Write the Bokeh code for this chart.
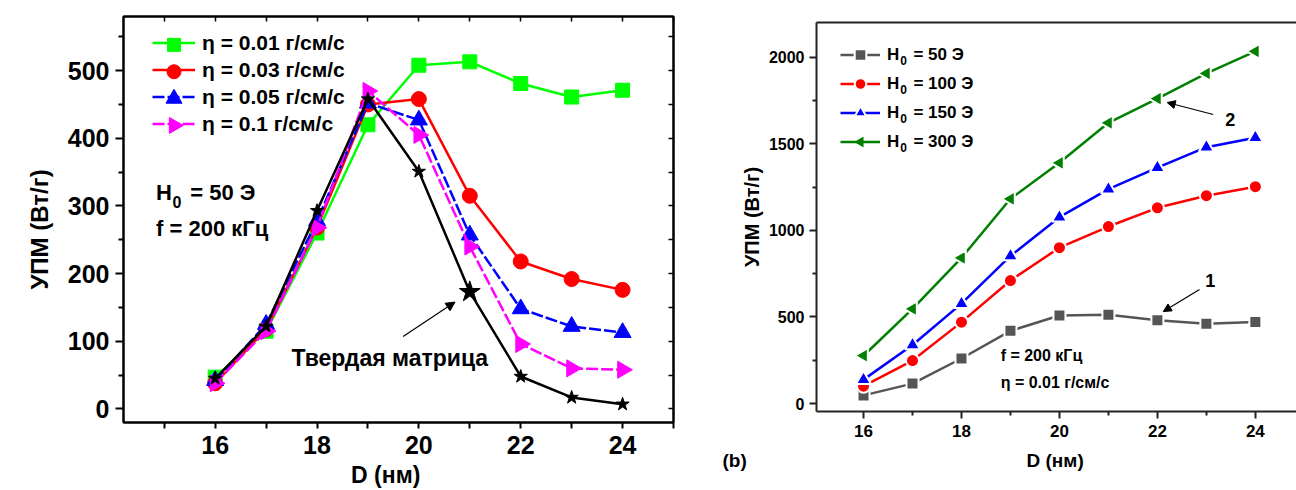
import math
from jinja2 import Template
from bokeh.plotting import figure
from bokeh.models import (Range1d, LinearAxis, Legend, LegendItem, Label, Arrow,
                          NormalHead, FixedTicker, Title)
from bokeh.core.templates import FILE
from bokeh.embed import file_html
from bokeh.resources import INLINE

FONT = "Liberation Sans"
NB = "\u00a0"

# particle diameter, nm
D = [16, 17, 18, 19, 20, 21, 22, 23, 24]

# (a) SAR vs D for several viscosities, H0 = 50 Oe, f = 200 kHz
sar_eta_001 = [47, 115, 260, 420, 508, 513, 481, 461, 471]
sar_eta_003 = [38, 118, 268, 450, 458, 315, 218, 192, 176]
sar_eta_005 = [42, 125, 278, 452, 427, 257, 148, 122, 113]
sar_eta_01 = [38, 115, 268, 470, 405, 240, 96, 60, 58]
sar_solid = [45, 122, 293, 458, 351, 173, 48, 17, 7]

# (b) SAR vs D for several field amplitudes, eta = 0.01
sar_h50 = [47, 115, 260, 420, 508, 513, 481, 461, 471]
sar_h100 = [100, 248, 470, 710, 900, 1022, 1130, 1200, 1252]
sar_h150 = [138, 338, 577, 852, 1076, 1238, 1362, 1480, 1535]
sar_h300 = [276, 546, 841, 1182, 1390, 1621, 1760, 1906, 2033]

left_labels = ["η = 0.01 г/см/с", "η = 0.03 г/см/с", "η = 0.05 г/см/с", "η = 0.1 г/см/с"]
field_values = ["50", "100", "150", "300"]

left_yticks = [0, 100, 200, 300, 400, 500]
left_yminor = [50, 150, 250, 350, 450, 550]
xticks = [16, 18, 20, 22, 24]
xminor = [15, 17, 19, 21, 23, 25]
right_yticks = [0, 500, 1000, 1500, 2000]
right_yminor = [250, 750, 1250, 1750]


def style_axis(ax, size, tick_out=8, minor_out=5, color="black"):
    ax.axis_line_width = 2
    ax.axis_line_color = color
    ax.major_tick_line_width = 2
    ax.minor_tick_line_width = 2
    ax.major_tick_line_color = color
    ax.minor_tick_line_color = color
    ax.major_tick_out = tick_out
    ax.major_tick_in = 0
    ax.minor_tick_out = minor_out
    ax.minor_tick_in = 0
    ax.major_label_text_font = FONT
    ax.major_label_text_font_style = "bold"
    ax.major_label_text_font_size = size
    ax.major_label_text_color = "black"
    ax.axis_label_text_font = FONT
    ax.axis_label_text_font_style = "bold"
    ax.axis_label_text_color = "black"


def mirror_ticks(p, side, positions):
    # frame side with short inward ticks only (minor ticks carry no labels)
    ax = LinearAxis(ticker=FixedTicker(ticks=[], minor_ticks=positions))
    ax.axis_line_width = 2
    ax.minor_tick_in = 5
    ax.minor_tick_out = 0
    ax.minor_tick_line_width = 1.5
    ax.major_tick_out = 0
    ax.major_label_standoff = 0
    p.add_layout(ax, side)


def text(p, x, y, s, size, align="left"):
    p.add_layout(Label(x=x, y=y, text=s, text_font=FONT, text_font_style="bold",
                       text_font_size=size, text_align=align, text_baseline="middle",
                       text_color="black"))


def screen_to_data(p, sx, sy):
    """Map a canvas pixel of figure p to its data coordinates (frame set by min_border_*)."""
    fx0 = p.min_border_left
    fx1 = p.width - p.min_border_right
    fy0 = p.min_border_top
    fy1 = p.height - p.min_border_bottom
    xr, yr = p.x_range, p.y_range
    x = xr.start + (sx - fx0) / (fx1 - fx0) * (xr.end - xr.start)
    y = yr.end - (sy - fy0) / (fy1 - fy0) * (yr.end - yr.start)
    return x, y


# ---------------- panel (a) ----------------
p1 = figure(width=700, height=490, x_range=Range1d(14.2, 25), y_range=Range1d(-20, 580),
            output_backend="svg", toolbar_location=None,
            min_border_left=123, min_border_right=27, min_border_top=16, min_border_bottom=66)
p1.outline_line_color = "black"
p1.outline_line_width = 2
p1.xgrid.visible = False
p1.ygrid.visible = False

p1.yaxis.ticker = FixedTicker(ticks=left_yticks, minor_ticks=left_yminor)
p1.xaxis.ticker = FixedTicker(ticks=xticks, minor_ticks=xminor)
style_axis(p1.yaxis[0], "25px", tick_out=8, minor_out=5)
style_axis(p1.xaxis[0], "25px", tick_out=6, minor_out=6)
p1.yaxis.axis_label = "УПМ (Вт/г)" + NB * 3
p1.yaxis.axis_label_text_font_size = "24px"
p1.yaxis.axis_label_standoff = 12
p1.yaxis.major_label_standoff = 6
p1.xaxis.axis_label = "D (нм)" + NB * 4
p1.xaxis.axis_label_text_font_size = "23px"
p1.xaxis.axis_label_standoff = 5
p1.xaxis.major_label_standoff = 7
mirror_ticks(p1, "above", list(range(15, 26)))
mirror_ticks(p1, "right", list(range(0, 551, 50)))

series_a = [
    (sar_eta_001, "#00ff00", "square", 14, 0.0, None),
    (sar_eta_003, "#ff0000", "circle", 15, 0.0, None),
    (sar_eta_005, "#0000ff", "triangle", 17, 0.0, "12 3"),
    (sar_eta_01, "#ff00ff", "triangle", 17, -math.pi / 2, "12 3"),
]

# legend block: rows of 27 px, line keys 43 px wide starting 29 px inside the frame
LEG_A_X, LEG_A_Y, LEG_A_ROW, LEG_A_KEY = 29, 285, 27, 43
leg_top = (p1.height - p1.min_border_bottom) - LEG_A_Y - 4 * LEG_A_ROW

items_a = []
for i, ((vals, col, mk, sz, ang, dash), lab) in enumerate(zip(series_a, left_labels)):
    kw = {} if dash is None else {"line_dash": dash}
    ln = p1.line(D, vals, line_color=col, line_width=2.5, **kw)
    p1.scatter(D, vals, marker=mk, size=sz, angle=ang, fill_color=col, line_color=col)
    items_a.append(LegendItem(label=lab, renderers=[ln]))
    # key marker drawn over the legend line (the legend itself shrinks and un-rotates markers)
    kx, ky = screen_to_data(p1, p1.min_border_left + LEG_A_X + LEG_A_KEY / 2,
                            leg_top + LEG_A_ROW * (i + 0.5))
    p1.scatter([kx], [ky], marker=mk, size=sz - 1, angle=ang, fill_color=col, line_color=col)

# solid matrix curve
p1.line(D, sar_solid, line_color="black", line_width=2.5)
p1.scatter(D, sar_solid, marker="star", size=14, fill_color="black", line_color="black")
p1.scatter([D[5]], [sar_solid[5]], marker="star", size=22, fill_color="black", line_color="black")

leg_a = Legend(items=items_a, location=(LEG_A_X, LEG_A_Y), orientation="vertical",
               glyph_width=LEG_A_KEY, glyph_height=LEG_A_ROW, label_standoff=7, spacing=0,
               padding=0, margin=0, border_line_color=None, background_fill_alpha=0,
               label_text_font=FONT, label_text_font_style="bold",
               label_text_font_size="21px", label_text_color="black", label_height=LEG_A_ROW)
p1.add_layout(leg_a)

text(p1, 14.84, 320, "H" + NB + NB + " = 50 Э", "22px")
text(p1, 15.25, 306, "0", "16px", align="center")
text(p1, 14.84, 266, "f = 200 кГц", "22px")
text(p1, 19.43, 75, "Твердая матрица", "23px", align="center")
p1.add_layout(Arrow(x_start=19.69, y_start=107, x_end=20.71, y_end=158, line_width=1.2,
                    end=NormalHead(size=9, fill_color="black", line_color="black")))

# ---------------- panel (b) ----------------
p2 = figure(width=596, height=490, x_range=Range1d(15.04, 24.84), y_range=Range1d(-46, 2200),
            output_backend="svg", toolbar_location=None,
            min_border_left=116, min_border_right=0, min_border_top=22, min_border_bottom=79)
p2.outline_line_color = None
p2.xgrid.visible = False
p2.ygrid.visible = False

AXC = "#222222"
p2.yaxis.ticker = FixedTicker(ticks=right_yticks, minor_ticks=right_yminor)
p2.xaxis.ticker = FixedTicker(ticks=xticks, minor_ticks=[17, 19, 21, 23])
style_axis(p2.yaxis[0], "16px", tick_out=7, minor_out=4, color=AXC)
style_axis(p2.xaxis[0], "17px", tick_out=7, minor_out=4, color=AXC)
p2.yaxis.axis_label = "УПМ (Вт/г)"
p2.yaxis.axis_label_text_font_size = "20px"
p2.yaxis.axis_label_standoff = 3
p2.yaxis.major_label_standoff = 5
p2.xaxis.major_label_standoff = 6
top2 = LinearAxis(ticker=FixedTicker(ticks=[]))
top2.axis_line_width = 2
top2.axis_line_color = AXC
top2.major_label_standoff = 0
top2.major_tick_out = 0
p2.add_layout(top2, "above")

# panel tag and x-axis title share one line under the tick labels
p2.add_layout(Title(text="(b)" + NB * 53 + "D  (нм)", align="left", offset=-94,
                    standoff=16, text_font=FONT, text_font_style="bold",
                    text_font_size="19px", text_color="black"), "below")

series_b = [
    (sar_h50, "#555555", "square", 12, 0.0),
    (sar_h100, "#ff0000", "circle", 13, 0.0),
    (sar_h150, "#0000ff", "triangle", 15, 0.0),
    (sar_h300, "#008000", "triangle", 15, math.pi / 2),
]
items_b = []
for (vals, col, mk, sz, ang), fv in zip(series_b, field_values):
    ln = p2.line(D, vals, line_color=col, line_width=2.5)
    sc = p2.scatter(D, vals, marker=mk, size=sz, angle=ang, fill_color=col,
                    line_color="white", line_width=2)
    items_b.append(LegendItem(label="H" + NB + NB + " = " + fv + " Э",
                              renderers=[ln] if ang else [ln, sc]))

leg_b = Legend(items=items_b, location=(24, 255), orientation="vertical",
               glyph_width=40, glyph_height=29, label_standoff=7, spacing=0,
               padding=0, margin=0, border_line_color=None, background_fill_alpha=0,
               label_text_font=FONT, label_text_font_style="bold",
               label_text_font_size="17px", label_text_color="black", label_height=29)
p2.add_layout(leg_b)
kx, ky = screen_to_data(p2, 840 - 700 + 20, 411 - 255 - 29 / 2)
p2.scatter([kx], [ky], marker="triangle", size=14, angle=math.pi / 2,
           fill_color="#008000", line_color="white", line_width=2)

# subscript zeros of the legend entries
for row_i in range(4):
    zx, zy = screen_to_data(p2, 887 - 700 + 16, 411 - 255 - 4 * 29 + 29 * row_i + 29 / 2 + 5)
    text(p2, zx, zy, "0", "12px", align="center")

text(p2, 18.8, 277, "f = 200 кГц", "16px")
text(p2, 18.8, 121, "η = 0.01 г/см/с", "16px")
text(p2, 23.08, 710, "1", "18px", align="center")
p2.add_layout(Arrow(x_start=22.86, y_start=658, x_end=22.12, y_end=531, line_width=1.2,
                    end=NormalHead(size=8, fill_color="black", line_color="black")))
text(p2, 23.49, 1640, "2", "18px", align="center")
p2.add_layout(Arrow(x_start=23.14, y_start=1669, x_end=22.2, y_end=1738, line_width=1.2,
                    end=NormalHead(size=8, fill_color="black", line_color="black")))

# the two panels are separate roots placed side by side, each keeping its own frame
page = Template(
    "{% extends base %}"
    "{% block postamble %}<style>body { display: flex !important; flex-direction: row; "
    "align-items: flex-start; }</style>{% endblock %}"
)
open("out.html", "w").write(file_html([p1, p2], INLINE, template=page,
                                      template_variables={"base": FILE}))
